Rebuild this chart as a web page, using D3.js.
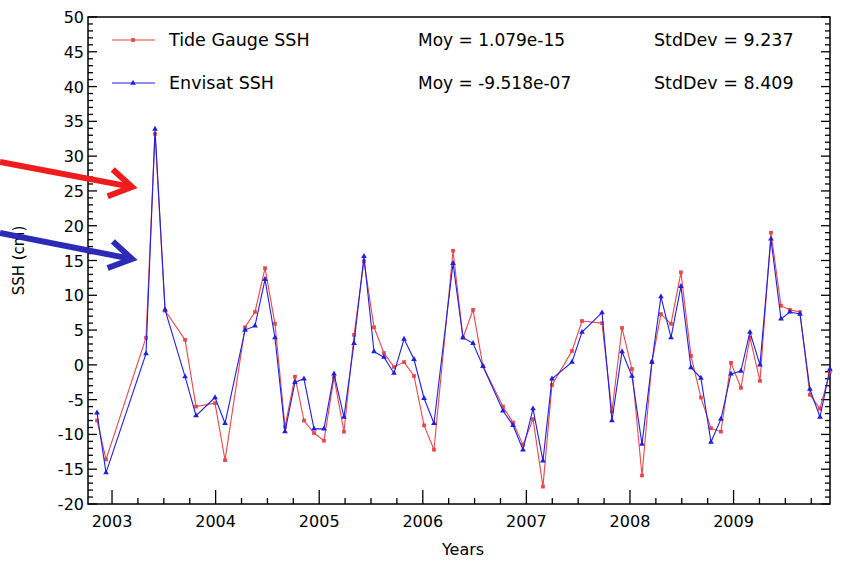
<!DOCTYPE html>
<html><head><meta charset="utf-8">
<script src="https://cdn.jsdelivr.net/npm/d3@7"></script>
<style>body{margin:0;background:#fff}svg{font-family:"DejaVu Sans",sans-serif}</style>
</head><body><svg id="c" width="841" height="562"></svg>
<script>
const years = [2002.855,2002.942,2003.328,2003.415,2003.512,2003.705,2003.811,2003.994,2004.091,2004.284,2004.380,2004.477,2004.573,2004.670,2004.766,2004.853,2004.950,2005.046,2005.143,2005.239,2005.336,2005.432,2005.529,2005.625,2005.722,2005.819,2005.915,2006.012,2006.108,2006.292,2006.388,2006.485,2006.581,2006.774,2006.871,2006.967,2007.064,2007.160,2007.247,2007.440,2007.537,2007.730,2007.826,2007.923,2008.019,2008.116,2008.212,2008.299,2008.396,2008.492,2008.589,2008.685,2008.782,2008.878,2008.975,2009.071,2009.158,2009.255,2009.361,2009.458,2009.544,2009.641,2009.737,2009.834,2009.93];
const tideGauge = [-8,-13.6,3.9,33.2,7.8,3.6,-6.0,-5.5,-13.7,5.4,7.6,13.9,5.9,-8.9,-1.7,-8.0,-9.8,-10.9,-1.8,-9.6,4.3,14.9,5.4,1.7,-0.3,0.4,-1.6,-8.7,-12.2,16.4,3.9,7.9,-0.2,-6.0,-8.3,-11.5,-7.8,-17.5,-2.9,2.0,6.3,6.0,-6.7,5.3,-0.6,-15.9,0.4,7.3,5.9,13.3,1.3,-4.7,-9.1,-9.6,0.3,-3.3,3.9,-2.3,19.0,8.5,7.9,7.6,-4.3,-6.3,-1];
const envisat = [-6.9,-15.5,1.6,33.9,7.9,-1.7,-7.3,-4.7,-8.4,5.0,5.6,12.3,3.9,-9.6,-2.5,-2.0,-9.2,-9.2,-1.3,-7.5,3.1,15.6,1.9,1.1,-1.2,3.7,0.8,-4.8,-8.4,14.6,3.9,3.1,-0.2,-6.6,-8.7,-12.2,-6.3,-13.8,-2.0,0.4,4.7,7.5,-8.0,1.9,-1.6,-11.4,0.4,9.8,3.9,11.3,-0.4,-1.9,-11.1,-7.8,-1.3,-0.9,4.7,0,18.1,6.6,7.6,7.3,-3.5,-7.5,-0.6];
const yearTicks = [2003,2004,2005,2006,2007,2008,2009];
const yTicks = d3.range(-20,51,5);
const legend = [
 {name:"Tide Gauge SSH", moy:"Moy = 1.079e-15", sd:"StdDev = 9.237", color:"#e8474a", sym:d3.symbolSquare},
 {name:" Envisat SSH", moy:"Moy = -9.518e-07", sd:"StdDev = 8.409", color:"#1f1fe0", sym:d3.symbolTriangle}];

const svg = d3.select("#c");
const L=88,R=830,T=17,B=504;
const x = d3.scaleLinear().domain([2002.768,2009.931]).range([L,R]);
const y = d3.scaleLinear().domain([-20,50]).range([B,T]);
const g = svg.append("g");

g.append("rect").attr("x",L).attr("y",T).attr("width",R-L).attr("height",B-T).attr("fill","none").attr("stroke","#000").attr("stroke-width",1.5);
const yMinor = d3.range(-20,50.1,1);
g.selectAll(".ym").data(yMinor).join("g").each(function(v){
  const len = v%5===0?9:5, yy=y(v);
  d3.select(this).append("line").attr("x1",L).attr("x2",L+len).attr("y1",yy).attr("y2",yy).attr("stroke","#000").attr("stroke-width",1.3);
  d3.select(this).append("line").attr("x1",R).attr("x2",R-len).attr("y1",yy).attr("y2",yy).attr("stroke","#000").attr("stroke-width",1.3);
});
g.selectAll(".yl").data(yTicks).join("text").attr("x",L-4).attr("y",d=>y(d)+6).attr("text-anchor","end").attr("font-size",16).text(d=>d);
const xMinor = d3.range(2003,2010,0.25);
g.selectAll(".xm").data(xMinor).join("line").attr("x1",d=>x(d)).attr("x2",d=>x(d)).attr("y1",B).attr("y2",d=>B-(Math.abs(d-Math.round(d))<1e-6?14:6)).attr("stroke","#000").attr("stroke-width",1.3);
g.selectAll(".xl").data(yearTicks).join("text").attr("x",d=>x(d)).attr("y",B+23).attr("text-anchor","middle").attr("font-size",16).text(d=>d);
svg.append("text").attr("x",(L+R)/2+4).attr("y",555).attr("text-anchor","middle").attr("font-size",16).text("Years");
svg.append("text").attr("transform",`translate(24,${(T+B)/2}) rotate(-90)`).attr("text-anchor","middle").attr("font-size",15).text("SSH (cm)");

const series=[{v:tideGauge,l:legend[0]},{v:envisat,l:legend[1]}];
series.forEach(s=>{
  const line=d3.line().x((d,i)=>x(years[i])).y(d=>y(d));
  g.append("path").datum(s.v).attr("d",line).attr("fill","none").attr("stroke",s.l.color).attr("stroke-width",1.1);
  g.selectAll(null).data(s.v).join("path").attr("transform",(d,i)=>`translate(${x(years[i])},${y(d)})`).attr("d",d3.symbol().type(s.l.sym).size(14)).attr("fill",s.l.color);
});
legend.forEach((l,i)=>{
  const yy=40+i*43;
  g.append("line").attr("x1",112).attr("x2",155).attr("y1",yy).attr("y2",yy).attr("stroke",l.color).attr("stroke-width",1.1);
  g.append("path").attr("transform",`translate(133,${yy})`).attr("d",d3.symbol().type(l.sym).size(14)).attr("fill",l.color);
  g.append("text").attr("x",169).attr("y",yy+6).attr("font-size",17.5).text(l.name);
  g.append("text").attr("x",418).attr("y",yy+6).attr("font-size",17).text(l.moy);
  g.append("text").attr("x",654).attr("y",yy+6).attr("font-size",17.5).text(l.sd);
});
function arrow(x1,y1,x2,y2,color){
  const a=svg.append("g");
  const ang=Math.atan2(y2-y1,x2-x1), hl=26, hw=0.55;
  a.append("line").attr("x1",x1).attr("y1",y1).attr("x2",x2-6*Math.cos(ang)).attr("y2",y2-6*Math.sin(ang)).attr("stroke",color).attr("stroke-width",6);
  const p=[[x2-hl*Math.cos(ang-hw),y2-hl*Math.sin(ang-hw)],[x2,y2],[x2-hl*Math.cos(ang+hw),y2-hl*Math.sin(ang+hw)]];
  a.append("polyline").attr("points",p.map(d=>d.join(",")).join(" ")).attr("fill","none").attr("stroke",color).attr("stroke-width",6).attr("stroke-linejoin","miter");
}
arrow(0,162,132,187,"#ee1c1c");
arrow(0,233,132,259,"#2b2bb8");
</script></body></html>
